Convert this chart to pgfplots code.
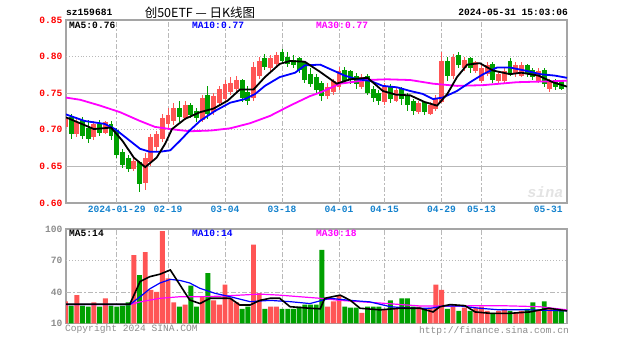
\documentclass[border=0pt]{standalone}
\usepackage{fontspec}
\setmainfont{Liberation Mono}
\newfontfamily\cjk{Noto Sans CJK SC}
\usepackage{pgfplots}
\usepackage{pgfplotstable}
\pgfplotsset{compat=1.18}
\definecolor{upc}{RGB}{255,85,85}
\definecolor{dnc}{RGB}{0,160,0}
\definecolor{maten}{RGB}{0,0,255}
\definecolor{mathirty}{RGB}{255,0,255}
\definecolor{datec}{RGB}{20,130,205}
\definecolor{framec}{RGB}{165,165,165}
\definecolor{gridc}{RGB}{185,185,185}
\definecolor{txtgray}{RGB}{140,140,140}

\pgfplotstableread{
i o h l c v
0 0.704 0.722 0.700 0.718 31
2 0.694 0.718 0.690 0.710 37
5 0.690 0.712 0.686 0.708 30
7 0.696 0.712 0.694 0.710 34
12 0.646 0.662 0.644 0.658 75
14 0.628 0.668 0.618 0.662 78
15 0.656 0.694 0.650 0.690 42
16 0.676 0.698 0.670 0.694 40
17 0.688 0.722 0.684 0.716 98
18 0.708 0.730 0.700 0.720 53
19 0.712 0.736 0.706 0.730 30
21 0.716 0.740 0.714 0.734 28
24 0.714 0.748 0.710 0.744 35
26 0.724 0.750 0.720 0.746 32
27 0.736 0.760 0.732 0.756 28
28 0.742 0.768 0.740 0.762 47
29 0.752 0.772 0.748 0.764 34
30 0.756 0.774 0.752 0.768 30
33 0.744 0.792 0.740 0.786 85
34 0.774 0.800 0.770 0.794 39
36 0.784 0.802 0.778 0.798 26
37 0.790 0.806 0.786 0.802 26
46 0.746 0.764 0.742 0.758 26
47 0.752 0.770 0.748 0.766 31
48 0.758 0.786 0.754 0.780 37
52 0.758 0.776 0.756 0.772 20
56 0.738 0.764 0.734 0.758 24
58 0.740 0.758 0.738 0.754 25
62 0.724 0.740 0.722 0.736 26
64 0.722 0.738 0.720 0.734 25
65 0.728 0.748 0.726 0.744 47
66 0.738 0.806 0.736 0.794 42
68 0.774 0.804 0.770 0.800 26
70 0.784 0.800 0.780 0.796 25
72 0.780 0.794 0.778 0.792 25
73 0.766 0.788 0.764 0.784 26
74 0.776 0.792 0.774 0.788 22
76 0.766 0.780 0.764 0.776 22
77 0.766 0.784 0.762 0.780 24
79 0.776 0.792 0.772 0.788 20
80 0.774 0.792 0.772 0.788 22
83 0.766 0.784 0.764 0.780 22
85 0.756 0.770 0.752 0.766 24
}\upT

\pgfplotstableread{
i o h l c v
1 0.718 0.722 0.688 0.694 27
3 0.714 0.718 0.688 0.692 27
4 0.702 0.714 0.682 0.688 26
6 0.708 0.714 0.692 0.696 26
8 0.708 0.712 0.686 0.692 27
9 0.700 0.702 0.662 0.666 26
10 0.670 0.674 0.648 0.652 27
11 0.662 0.666 0.642 0.646 30
13 0.656 0.658 0.615 0.626 56
20 0.730 0.740 0.710 0.718 26
22 0.734 0.736 0.716 0.720 46
23 0.726 0.730 0.710 0.716 26
25 0.748 0.760 0.715 0.722 58
31 0.768 0.770 0.738 0.744 24
32 0.752 0.760 0.734 0.740 26
35 0.798 0.804 0.782 0.786 24
38 0.806 0.810 0.790 0.794 24
39 0.800 0.806 0.786 0.790 24
40 0.796 0.802 0.784 0.788 24
41 0.798 0.800 0.778 0.782 26
42 0.792 0.794 0.764 0.768 28
43 0.776 0.784 0.758 0.762 28
44 0.772 0.776 0.750 0.754 28
45 0.764 0.766 0.740 0.746 80
49 0.782 0.786 0.762 0.766 26
50 0.780 0.782 0.762 0.768 25
51 0.774 0.778 0.756 0.762 25
53 0.774 0.776 0.748 0.750 26
54 0.756 0.760 0.738 0.744 26
55 0.750 0.754 0.734 0.740 26
57 0.760 0.762 0.736 0.742 32
59 0.756 0.758 0.734 0.742 34
60 0.748 0.750 0.726 0.734 34
61 0.740 0.742 0.720 0.726 26
63 0.738 0.740 0.720 0.724 24
67 0.794 0.800 0.766 0.774 24
69 0.802 0.806 0.784 0.788 22
71 0.798 0.800 0.778 0.784 22
75 0.790 0.792 0.764 0.768 20
78 0.794 0.798 0.774 0.778 22
81 0.788 0.790 0.772 0.776 24
82 0.782 0.784 0.768 0.772 30
84 0.782 0.784 0.758 0.762 31
86 0.768 0.770 0.754 0.758 22
87 0.766 0.768 0.754 0.756 23
}\dnT

\tikzset{
  vgrid/.style={gridc, line width=0.9pt, dash pattern=on 5pt off 2pt on 2pt off 2pt},
}
\pgfplotsset{
  sinaaxis/.style={
    scale only axis, anchor=south west,
    xmin=0.1, xmax=88,
    axis line style={draw=framec, line width=1.3pt},
    major tick length=0pt,
    tick label style={font=\fontsize{9.6}{10}\selectfont\bfseries},
  },
  wick/.style={color=#1, draw=none, mark=none, forget plot,
    error bars/.cd, y dir=both, y explicit, error mark=none,
    error bar style={line width=1pt, draw=#1}},
  body/.style={color=#1, draw=none, mark=none, forget plot,
    error bars/.cd, y dir=both, y explicit, error mark=none,
    error bar style={line width=4.9pt, draw=#1}},
}

\begin{document}
\begin{tikzpicture}
\useasboundingbox (0pt,0pt) rectangle (627pt,342pt);

% ---------------- price panel ----------------
\begin{axis}[sinaaxis, at={(66pt,139pt)}, width=501pt, height=183pt,
  ymin=0.60, ymax=0.85,
  ytick={0.60,0.65,0.70,0.75,0.80,0.85},
  yticklabels={0.60,0.65,0.70,0.75,0.80,0.85},
  yticklabel style={red},
  xtick={9,18,28,38,48,56,66,73},
  xticklabels={2024-01-29,02-19,03-04,03-18,04-01,04-15,04-29,05-13},
  extra x ticks={84.7}, extra x tick labels={05-31},
  xticklabel style={datec},
  extra x tick style={xticklabel style={datec}},
]
\pgfplotsinvokeforeach{9,18,28,38,48,56,66,73}{
  \draw[vgrid] (axis cs:#1,0.60) -- (axis cs:#1,0.85);
}
\draw[gridc, line width=1pt] (axis cs:0.1,0.75) -- (axis cs:88,0.75);
\draw[gridc, line width=1pt] (axis cs:0.1,0.65) -- (axis cs:88,0.65);
\draw[gridc, line width=0.9pt, dotted] (axis cs:0.1,0.80) -- (axis cs:88,0.80);
\draw[gridc, line width=0.9pt, dotted] (axis cs:0.1,0.70) -- (axis cs:88,0.70);
\node[gray!22, font=\fontsize{15}{15}\selectfont\bfseries\itshape] at (axis cs:84.2,0.615) {sina};

% candles
\addplot[wick=upc] table[x=i, y expr={(\thisrow{h}+\thisrow{l})/2}, y error expr={(\thisrow{h}-\thisrow{l})/2}] {\upT};
\addplot[body=upc] table[x=i, y expr={(\thisrow{o}+\thisrow{c})/2}, y error expr={abs(\thisrow{c}-\thisrow{o})/2}] {\upT};
\addplot[wick=dnc] table[x=i, y expr={(\thisrow{h}+\thisrow{l})/2}, y error expr={(\thisrow{h}-\thisrow{l})/2}] {\dnT};
\addplot[body=dnc] table[x=i, y expr={(\thisrow{o}+\thisrow{c})/2}, y error expr={abs(\thisrow{c}-\thisrow{o})/2}] {\dnT};

% MA30
\addplot[mathirty, line width=1.8pt, mark=none] coordinates {
(0.1,0.744)(2.6,0.741)(6.1,0.733)(9.6,0.724)(13.1,0.712)(15.7,0.704)(18.4,0.701)
(21.8,0.698)(25.5,0.699)(28.9,0.702)(32.4,0.709)(35.9,0.719)(39.4,0.733)(42.9,0.746)
(44.7,0.751)(48.2,0.763)(52.9,0.768)(56.4,0.769)(60.5,0.768)(64.5,0.763)(68.7,0.760)
(73.3,0.761)(79.2,0.765)(83.8,0.766)(88,0.767)};
% MA10
\addplot[maten, line width=1.8pt, mark=none] coordinates {
(0.1,0.721)(3.4,0.712)(6.9,0.708)(8.7,0.701)(10.5,0.690)(13.1,0.674)(14.8,0.670)
(16.6,0.670)(18.4,0.672)(20.1,0.685)(21.8,0.699)(23.6,0.712)(26.3,0.726)(28.9,0.737)
(31.5,0.742)(33.3,0.749)(35,0.760)(37.6,0.772)(40.3,0.778)(42,0.788)(44.7,0.789)
(47,0.781)(49,0.774)(51.2,0.769)(53.4,0.767)(55.7,0.760)(58.2,0.758)(60.5,0.753)
(62.7,0.749)(64.5,0.742)(66.2,0.744)(68.7,0.753)(71,0.765)(73.3,0.776)(75.7,0.785)
(78,0.785)(80.6,0.781)(83.3,0.776)(85.9,0.774)(88,0.771)};
% MA5
\addplot[black, line width=1.8pt, mark=none] coordinates {
(0.1,0.717)(5,0.701)(8,0.703)(10,0.685)(12,0.662)(14,0.649)(16,0.662)(17.5,0.681)
(18.7,0.701)(21,0.715)(23.6,0.724)(26,0.729)(28.5,0.740)(30.6,0.755)(33,0.755)
(35,0.772)(37.6,0.790)(39.4,0.794)(42,0.793)(44.7,0.779)(47.6,0.763)(50,0.769)
(53,0.771)(55.7,0.753)(58,0.748)(60.5,0.747)(63,0.738)(65.2,0.733)(67,0.749)
(68.7,0.772)(70.5,0.789)(72.7,0.791)(75,0.781)(78,0.776)(80,0.778)(83,0.774)
(85.5,0.765)(88,0.759)};
\end{axis}

% ---------------- volume panel ----------------
\begin{axis}[sinaaxis, at={(66pt,18.5pt)}, width=501pt, height=94.5pt,
  ymin=10, ymax=100,
  ytick={10,40,70,100}, yticklabels={10,40,70,100},
  yticklabel style={txtgray},
  xtick=\empty,
]
\pgfplotsinvokeforeach{9,18,28,38,48,56,66,73}{
  \draw[vgrid] (axis cs:#1,10) -- (axis cs:#1,100);
}
\draw[gridc, line width=0.9pt, dotted] (axis cs:0.1,70) -- (axis cs:88,70);
\draw[gridc, line width=0.9pt, dash pattern=on 5pt off 2pt on 2pt off 2pt] (axis cs:0.1,40) -- (axis cs:88,40);

\addplot[ybar, bar width=4.9pt, bar shift=0pt, fill=upc, draw=none, forget plot] table[x=i, y=v] {\upT};
\addplot[ybar, bar width=4.9pt, bar shift=0pt, fill=dnc, draw=none, forget plot] table[x=i, y=v] {\dnT};

\addplot[mathirty, line width=1.2pt, mark=none] coordinates {
(0.1,28)(11.3,28)(13.1,30.6)(16.6,34)(20.1,35.5)(23.6,35.5)(27.1,36)(30.6,37)
(34.1,38)(37.6,37)(41.1,35.5)(44.7,34)(48.2,32)(55.2,29.5)(62.2,26.7)(67.5,26.7)
(76.2,27)(83.2,26)(88,23)};
\addplot[maten, line width=1.2pt, mark=none] coordinates {
(0.1,28)(11.3,28)(13.1,35.5)(14.8,43)(16.6,48.6)(18.4,52)(20.1,51)(21.8,48.6)
(23.6,43.5)(26.2,38.8)(28.9,35.5)(32.4,30.8)(35.9,32)(39.4,30.8)(42.9,29)(46.4,34)
(50,32)(53.4,30.6)(57,26)(60.5,24.5)(64,24.5)(66.6,26.7)(69.2,26.7)(72.7,24.5)
(76.2,23)(81.5,23)(88,22)};
\addplot[black, line width=1.6pt, mark=none] coordinates {
(0.1,28.5)(6.1,28.5)(11.3,28.5)(11.9,35.5)(13.1,50)(14.8,54.6)(16.6,57)(18.4,61)
(20.1,46.7)(21.8,32.4)(23.6,29)(25.4,34)(28.9,34)(30.6,27.6)(32.4,27.6)(34.1,32)
(35.9,34)(37.6,34)(39.4,26)(42.9,24.5)(44.7,24)(45.5,34)(48.2,37)(50,32)(51.7,24.5)
(55.2,23)(58.7,24.5)(62.2,24.5)(64.5,21)(65.7,26)(67.5,28)(70.1,27)(71.9,21)
(74.5,19.7)(78,19.7)(81.5,21)(84.8,24.5)(88,22)};
\end{axis}

% ---------------- texts ----------------
\begin{scope}[font=\fontsize{9.6}{10}\selectfont\bfseries]
\node[anchor=west, inner sep=0pt] at (66pt,329.5pt) {sz159681};
\node[anchor=east, inner sep=0pt] at (568pt,329.5pt) {2024-05-31 15:03:06};
\node[anchor=west, inner sep=0pt] at (69pt,316.5pt) {MA5:0.76};
\node[anchor=west, inner sep=0pt, maten] at (192pt,316.5pt) {MA10:0.77};
\node[anchor=west, inner sep=0pt, mathirty] at (316pt,316.5pt) {MA30:0.77};
\node[anchor=west, inner sep=0pt] at (69pt,109pt) {MA5:14};
\node[anchor=west, inner sep=0pt, maten] at (192pt,109pt) {MA10:14};
\node[anchor=west, inner sep=0pt, mathirty] at (316pt,109pt) {MA30:18};
\end{scope}
\node[inner sep=0pt, font=\cjk\fontsize{12.5}{13}\selectfont] at (200pt,329.5pt) {创50ETF — 日K线图};
\node[anchor=west, inner sep=0pt, txtgray, font=\fontsize{9.6}{10}\selectfont] at (65pt,13pt) {Copyright 2024 SINA.COM};
\node[anchor=east, inner sep=0pt, txtgray, font=\fontsize{9.6}{10}\selectfont] at (569pt,11pt) {http://finance.sina.com.cn};
\end{tikzpicture}
\end{document}
